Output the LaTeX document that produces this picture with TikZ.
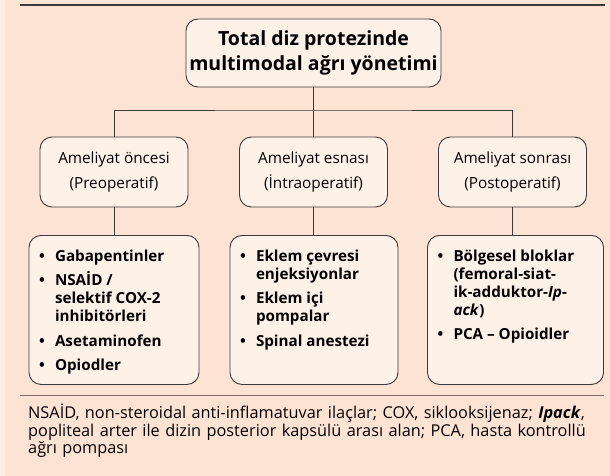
\documentclass[tikz,border=0pt]{standalone}
\usepackage{fontspec}
\setmainfont{Open Sans}
\usepackage{enumitem}
\usepackage{xcolor}
\usepackage{tikz}
\usetikzlibrary{calc}

\definecolor{zemin}{HTML}{FDE3D3}
\definecolor{kenar}{HTML}{FFF0E7}
\definecolor{kutuic}{HTML}{FEF1E8}
\definecolor{cizgi}{HTML}{3A3A3A}
\definecolor{ayrac}{HTML}{7D6E6A}

\setlist[itemize]{label=\textbullet,leftmargin=16pt,labelindent=0pt,labelwidth=9pt,labelsep=7pt,align=left,itemsep=6.5pt,topsep=0pt,parsep=0pt,partopsep=0pt}

\tikzset{
	kutu/.style={draw=cizgi,fill=kutuic,line width=0.9pt,rounded corners=12pt,align=center},
	baslik/.style={kutu,minimum width=249pt,minimum height=68pt,font=\fontsize{19.5}{25}\selectfont\bfseries},
	evre/.style={kutu,minimum width=148pt,minimum height=70pt,font=\fontsize{15.3}{25}\selectfont},
	liste/.style={kutu,anchor=north,inner xsep=10pt,inner ysep=14pt,align=left,font=\fontsize{15.2}{18}\selectfont\bfseries},
	bag/.style={draw=cizgi,line width=0.9pt},
}

\begin{document}
\begin{tikzpicture}[x=1pt,y=-1pt]
			\useasboundingbox (0,0) rectangle (610,476);
			\fill[zemin] (5,0) rectangle (610,476);
			\fill[kenar] (0,0) rectangle (5,476);
			\draw[cizgi,line width=1.8pt] (20,5) -- (605,5);
			\node[baslik] (ana) at (313.5,53) {Total diz protezinde\\multimodal ağrı yönetimi};
			\node[evre] (once) at (114,172) {Ameliyat öncesi\\(Preoperatif)};
			\node[evre] (esna) at (313.5,172) {Ameliyat esnası\\(İntraoperatif)};
			\node[evre] (sonra) at (512.5,172) {Ameliyat sonrası\\(Postoperatif)};
			\node[liste] (onceL) at (114,235) {\begin{minipage}[c][121pt][t]{150pt}
				\begin{itemize}
					\item Gabapentinler
					\item NSAİD /\\selektif COX-2\\inhibitörleri
					\item Asetaminofen
					\item Opiodler
				\end{itemize}\end{minipage}};
			\node[liste] (esnaL) at (314,235) {\begin{minipage}[c][121pt][t]{148pt}
				\begin{itemize}
					\item Eklem çevresi\\enjeksiyonlar
					\item Eklem içi\\pompalar
					\item Spinal anestezi
				\end{itemize}\end{minipage}};
			\node[liste] (sonraL) at (515.5,235) {\begin{minipage}[c][121pt][t]{156pt}
				\begin{itemize}
					\item Bölgesel bloklar\\(femoral-siat-\\ik-adduktor-\textit{Ip}-\\\textit{ack})
					\item PCA – Opioidler
				\end{itemize}\end{minipage}};
			\coordinate (dal) at (313.5,110);
			\draw[bag] (ana.south) -- (dal);
			\draw[bag] (once.north) |- (dal) -| (sonra.north);
			\draw[bag] (dal) -- (esna.north);
			\draw[bag] (once.south) -- (onceL.north);
			\draw[bag] (esna.south) -- (esna.south |- esnaL.north);
			\draw[bag] (sonra.south) -- (sonra.south |- sonraL.north);
			\draw[ayrac,line width=0.9pt] (20,395) -- (604,395);
			\node[anchor=north west,inner sep=0pt,text width=580pt,align=left,font=\fontsize{16.3}{17.2}\selectfont] (dipnot) at (28,404) {NSAİD, non-steroidal anti-inflamatuvar ilaçlar; COX, siklooksijenaz; \textbf{\textit{Ipack}},\\popliteal arter ile dizin posterior kapsülü arası alan; PCA, hasta kontrollü\\ağrı pompası};
		\end{tikzpicture}
\end{document}
